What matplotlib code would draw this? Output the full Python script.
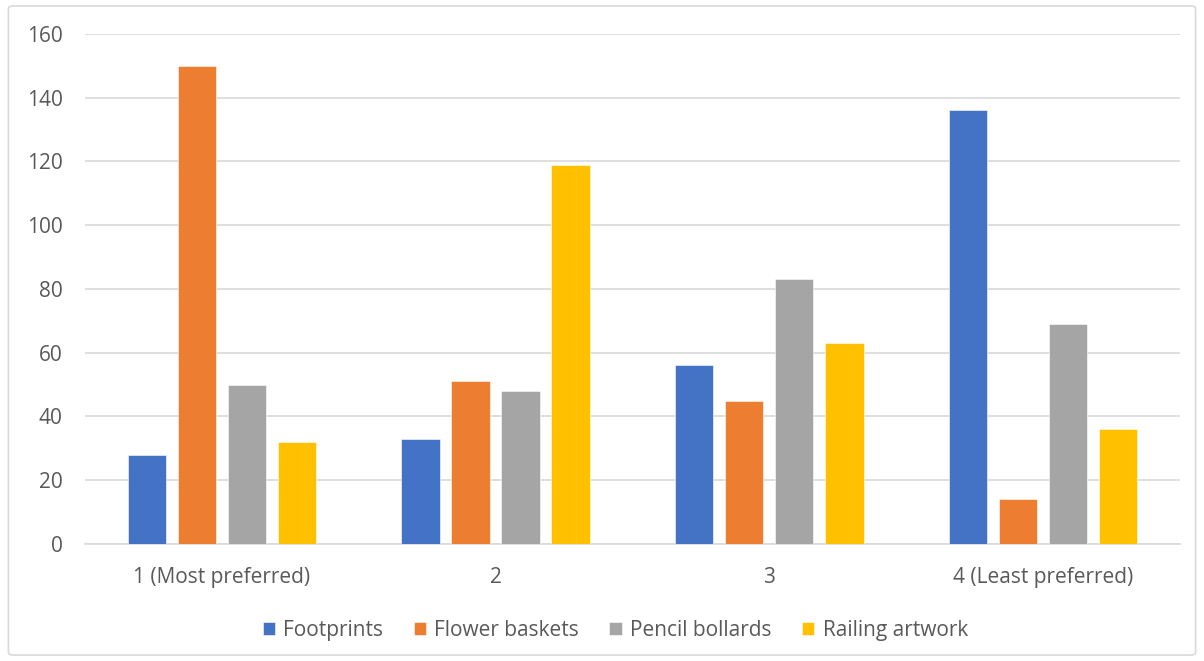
import numpy as np
import matplotlib.pyplot as plt
from matplotlib.patches import FancyBboxPatch

categories = ['1 (Most preferred)', '2', '3', '4 (Least preferred)']
series = ['Footprints', 'Flower baskets', 'Pencil bollards', 'Railing artwork']
footprints = [28, 33, 56, 136]
flower_baskets = [150, 51, 45, 14]
pencil_bollards = [50, 48, 83, 69]
railing_artwork = [32, 119, 63, 36]
yticks = [0, 20, 40, 60, 80, 100, 120, 140, 160]

colors = ['#4472C4', '#ED7D31', '#A5A5A5', '#FFC000']
text_col = '#595959'
grid_col = '#D9D9D9'

plt.rcParams['font.family'] = ['Open Sans', 'DejaVu Sans']

fig = plt.figure(figsize=(12.04, 6.61), dpi=100)
ax = fig.add_axes([0.0706, 0.177, 0.9094, 0.7716])

# Rahmen um das Diagramm
border = FancyBboxPatch((0.007, 0.009), 0.986, 0.982, boxstyle='round,pad=0,rounding_size=0.004',
                        transform=fig.transFigure, facecolor='none', edgecolor=grid_col, linewidth=1.2)
fig.patches.append(border)

x = np.arange(len(categories))
pitch = 0.1827
width = 0.14
values = [footprints, flower_baskets, pencil_bollards, railing_artwork]
for i, (name, vals) in enumerate(zip(series, values)):
    ax.bar(x + (i - 1.5) * pitch, vals, width, color=colors[i], label=name, zorder=3,
           edgecolor='white', linewidth=0.4)

ax.set_xlim(-0.5, 3.5)
ax.set_ylim(0, 160)
ax.set_yticks(yticks)
ax.set_xticks(x)
ax.set_xticklabels(categories)
ax.grid(axis='y', color=grid_col, linewidth=1.2, zorder=0)
for s in ['top', 'right', 'left']:
    ax.spines[s].set_visible(False)
ax.spines['bottom'].set_color(grid_col)
ax.spines['bottom'].set_linewidth(1.2)
ax.tick_params(axis='both', length=0, labelsize=15, colors=text_col)
ax.tick_params(axis='x', pad=16.5)
ax.tick_params(axis='y', pad=16)

fig.legend(loc='center', bbox_to_anchor=(0.511, 0.046), ncol=4, frameon=False, fontsize=15,
           handlelength=0.6, handleheight=0.6, handletextpad=0.4, columnspacing=1.45,
           labelcolor=text_col)

fig.savefig('out.png', dpi=100)
